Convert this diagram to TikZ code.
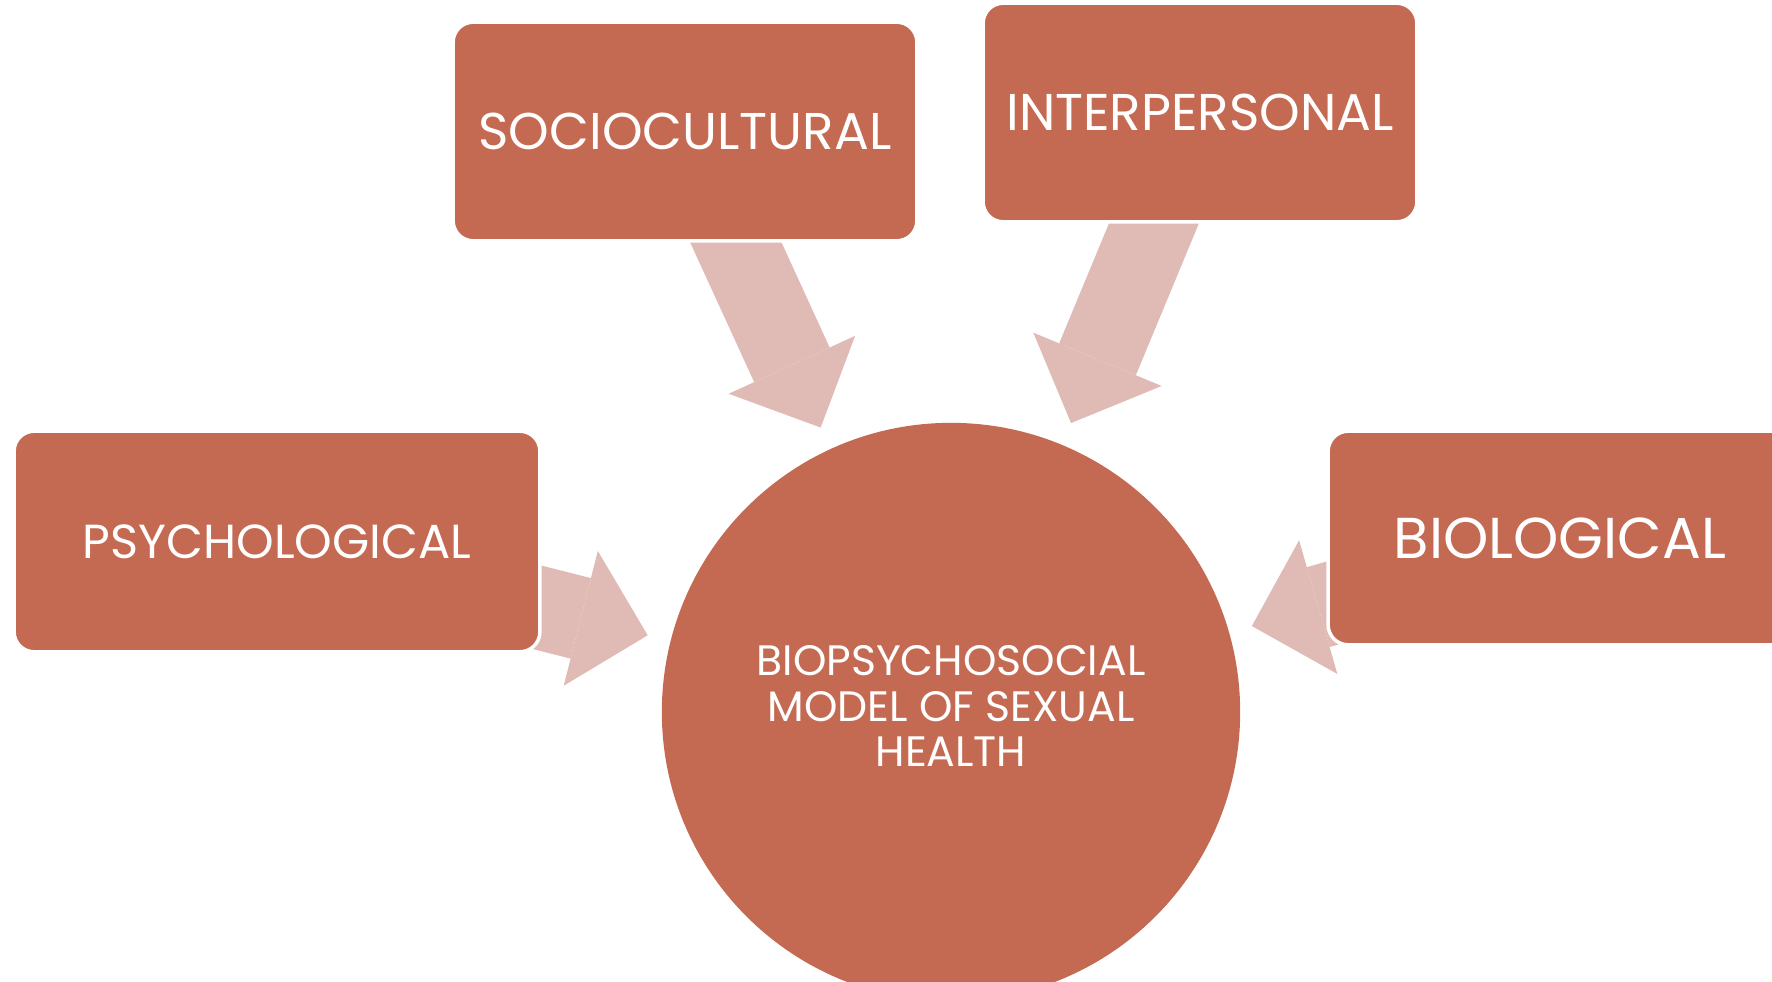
\documentclass[tikz,border=0pt]{standalone}
\usepackage{fontspec}
\setmainfont{Poppins}
\usepackage{tikz}
\usetikzlibrary{arrows.meta, backgrounds}
\definecolor{brick}{RGB}{197,106,82}
\definecolor{blush}{RGB}{224,186,180}
\tikzstyle{factor}=[%
      rectangle, rounded corners=0.2cm, draw=white, line width=0.035cm, fill=brick,
      text=white, minimum width=4.635cm, minimum height=2.185cm, inner sep=0pt, align=center
]
\tikzstyle{model}=[%
      circle, fill=brick, text=white,
      minimum size=5.78cm, inner sep=0pt,
      font=\fontsize{12.1}{13}\selectfont
]
\tikzstyle{push}=[%
      draw=blush, line width=0.83cm,
      -{Triangle[length=0.69cm, width=1.39cm, line width=0pt]},
      shorten >=0.23cm
]

\begin{document}
\begin{tikzpicture}[x=0.01cm, y=-0.01cm]
    \useasboundingbox (0,0) rectangle (1772,982);

    \node[model]  (bps)   at (951,712)   {\raisebox{0.15cm}{\begin{tabular}{@{}c@{}}BIOPSYCHOSOCIAL\\MODEL OF SEXUAL\\HEALTH\end{tabular}}};
    \node[factor, font=\fontsize{14.7}{18}\selectfont] (socio) at (685,131.5) {SOCIOCULTURAL};
    \node[factor, minimum width=4.335cm, font=\fontsize{14.7}{18}\selectfont] (inter) at (1200,112.5) {INTERPERSONAL};
    \node[factor, minimum width=5.255cm, minimum height=2.205cm, font=\fontsize{13.6}{17}\selectfont] (psych) at (277,541.5) {PSYCHOLOGICAL};
    \node[factor, minimum height=2.135cm, font=\fontsize{16.4}{20}\selectfont] (bio) at (1560,538) {BIOLOGICAL};

    \begin{scope}[on background layer]
    \path (socio.center) edge[push] (bps)
          (inter.center) edge[push] (bps)
          (psych.center) edge[push] (bps)
          (bio.center)   edge[push] (bps);
    \end{scope}
\end{tikzpicture}
\end{document}
